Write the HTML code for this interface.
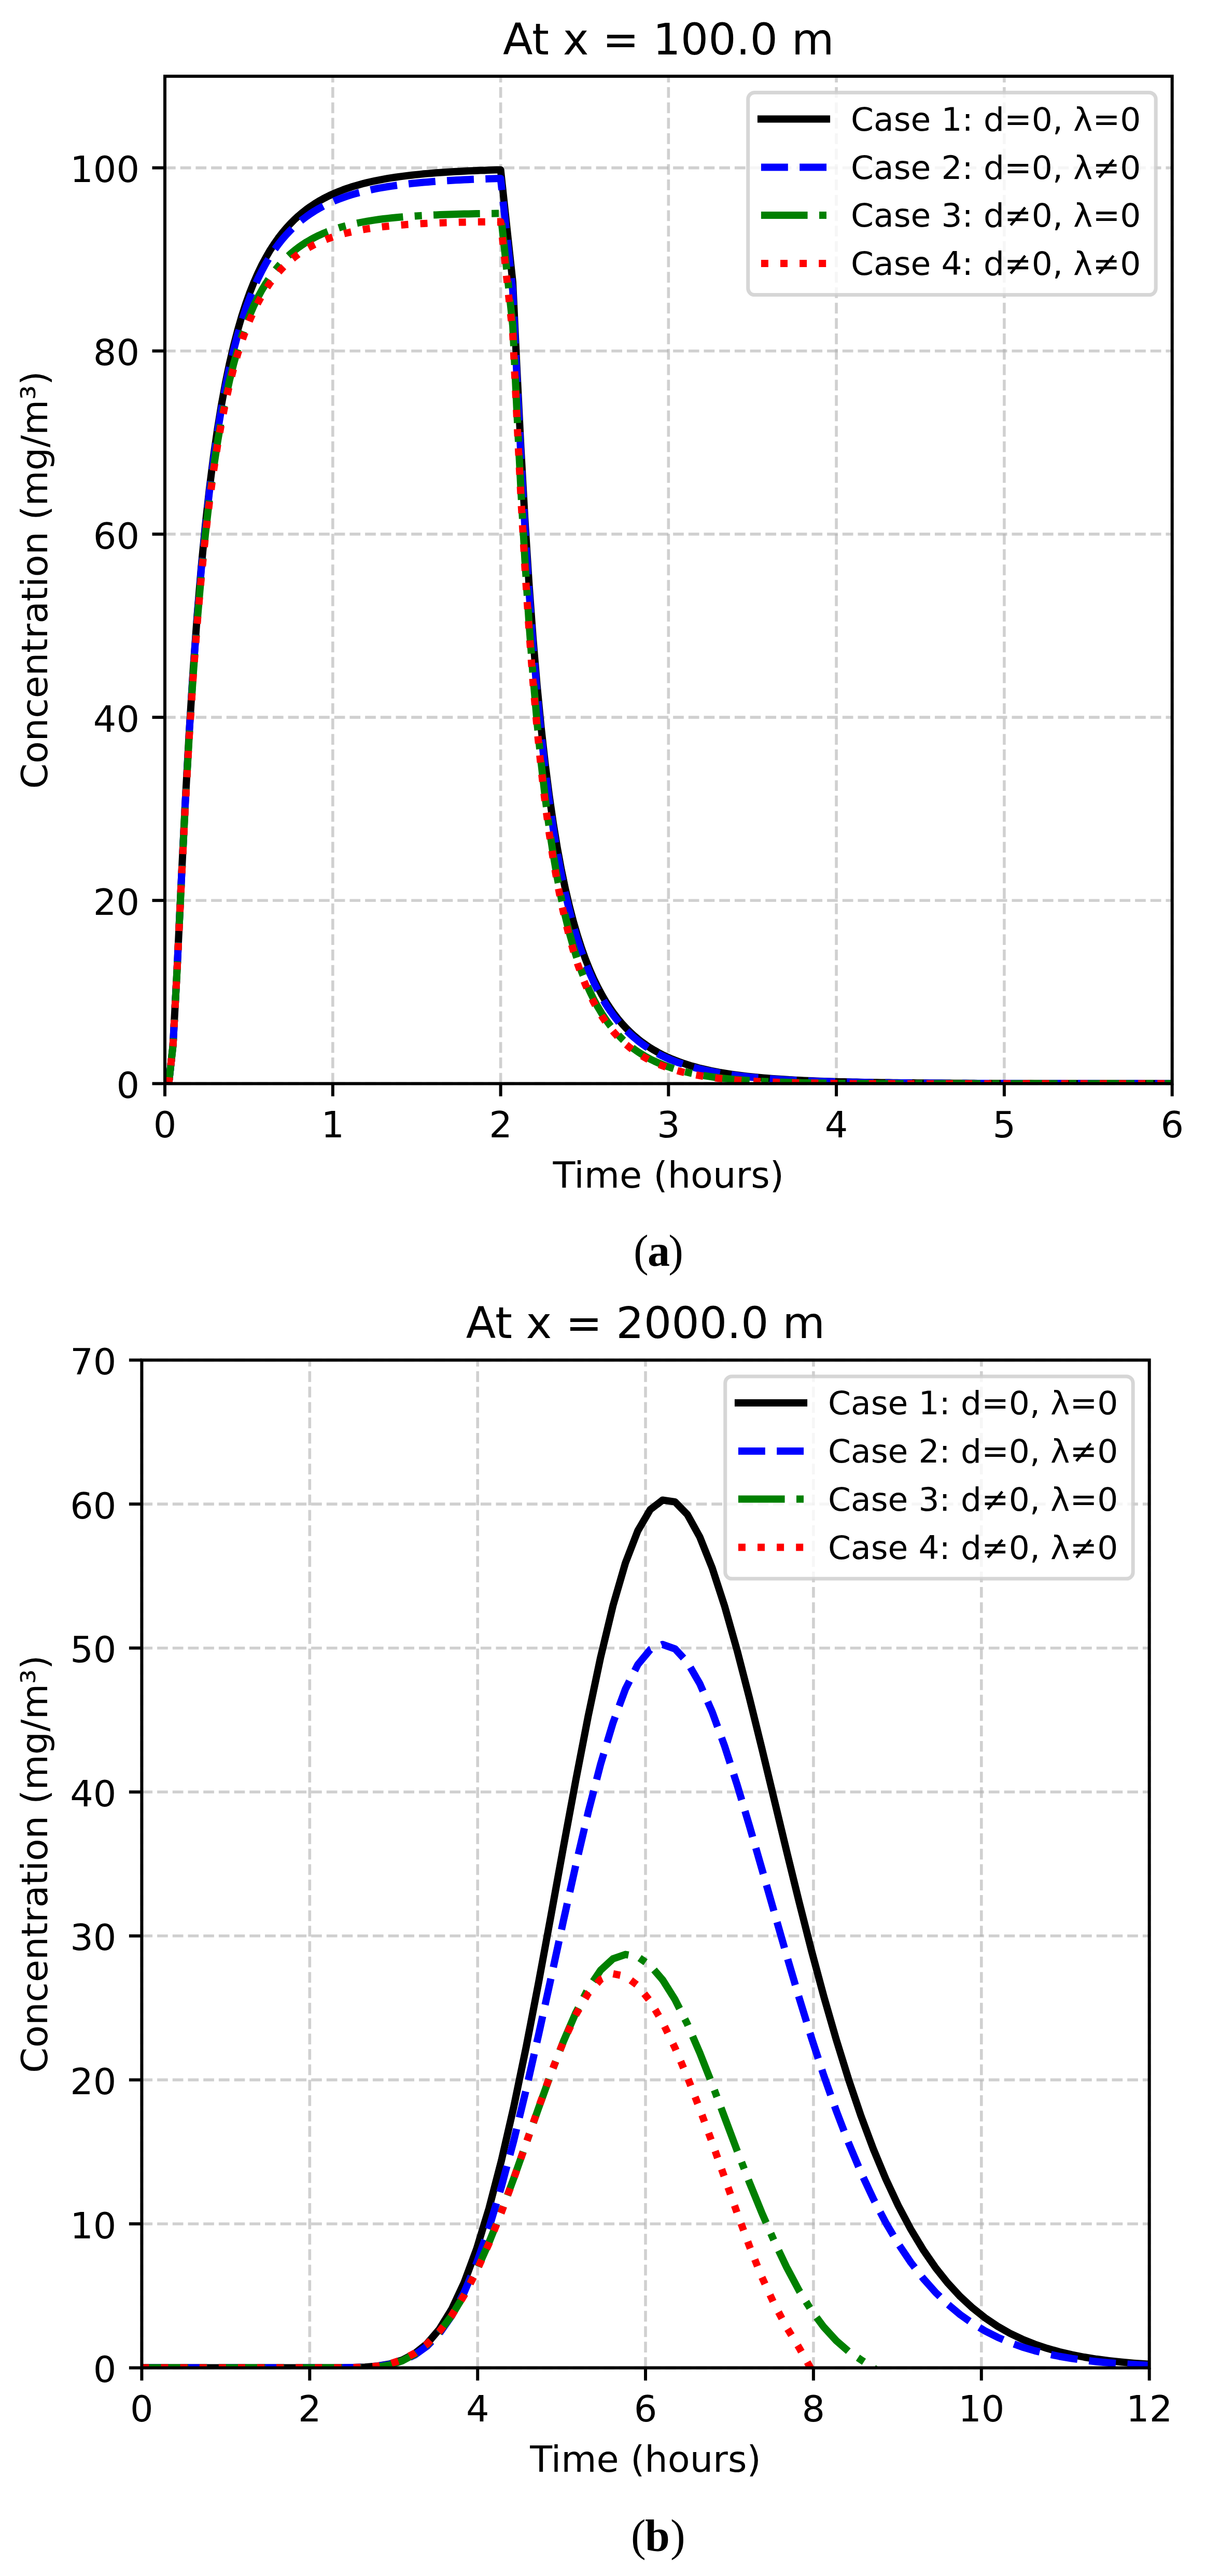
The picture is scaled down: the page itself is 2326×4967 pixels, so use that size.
<!DOCTYPE html><html><head><meta charset="utf-8"><title>Figure</title><style>html,body{margin:0;padding:0;background:#fff}svg{display:block}</style></head><body>
<svg width="2326" height="4967" viewBox="0 0 2326 4967">
<rect width="2326" height="4967" fill="#fff"/>
<clipPath id="clip1"><rect x="318" y="147" width="1942.7" height="1942.4"/></clipPath>
<g stroke="#b0b0b0" stroke-opacity="0.6" stroke-width="5.6" stroke-dasharray="20.7 9" fill="none">
<path d="M318 2089.4 V147"/>
<path d="M641.8 2089.4 V147"/>
<path d="M965.6 2089.4 V147"/>
<path d="M1289.3 2089.4 V147"/>
<path d="M1613.1 2089.4 V147"/>
<path d="M1936.9 2089.4 V147"/>
<path d="M2260.7 2089.4 V147"/>
<path d="M318 2089.4 H2260.7"/>
<path d="M318 1736.2 H2260.7"/>
<path d="M318 1383.1 H2260.7"/>
<path d="M318 1029.9 H2260.7"/>
<path d="M318 676.7 H2260.7"/>
<path d="M318 323.6 H2260.7"/>
</g>
<g clip-path="url(#clip1)" fill="none" stroke-width="14" stroke-linejoin="round">
<path d="M325.8 2086.2 L333.6 2016.1 L341.4 1871.5 L349.2 1708.2 L357 1552.8 L364.8 1413.6 L372.6 1291.6 L380.4 1185.5 L388.2 1093.3 L396 1013.1 L403.8 943 L411.6 881.7 L419.4 827.7 L427.2 780 L435 737.8 L442.8 700.3 L450.6 666.8 L458.4 636.9 L466.2 610 L474 585.9 L481.8 564.2 L489.6 544.5 L497.4 526.7 L505.2 510.6 L513.1 496 L520.9 482.6 L528.7 470.5 L536.5 459.4 L544.3 449.3 L552.1 440 L559.9 431.5 L567.7 423.6 L575.5 416.5 L583.3 409.9 L591.1 403.8 L598.9 398.2 L606.7 393 L614.5 388.2 L622.3 383.8 L630.1 379.7 L637.9 375.9 L645.7 372.4 L653.5 369.2 L661.3 366.2 L669.1 363.4 L676.9 360.8 L684.7 358.4 L692.5 356.2 L700.3 354.1 L708.1 352.1 L715.9 350.3 L723.7 348.6 L731.5 347.1 L739.3 345.6 L747.1 344.2 L754.9 342.9 L762.7 341.8 L770.5 340.6 L778.3 339.6 L786.1 338.6 L793.9 337.7 L801.7 336.9 L809.5 336.1 L817.3 335.3 L825.1 334.6 L832.9 334 L840.7 333.3 L848.5 332.8 L856.3 332.2 L864.1 331.7 L871.9 331.2 L879.7 330.8 L887.5 330.4 L895.3 330 L903.2 329.6 L911 329.3 L918.8 328.9 L926.6 328.6 L934.4 328.4 L942.2 328.1 L950 327.8 L957.8 327.6 L965.6 327.4 L989 544.6 L996.8 707.8 L1004.6 863 L1012.4 1002 L1020.2 1123.9 L1028 1229.8 L1035.8 1321.9 L1043.6 1402 L1051.4 1471.9 L1059.2 1533.2 L1067 1587.1 L1074.8 1634.7 L1082.6 1676.8 L1090.4 1714.2 L1098.2 1747.6 L1106 1777.5 L1113.8 1804.2 L1121.6 1828.3 L1129.4 1850 L1137.2 1869.5 L1145 1887.3 L1152.8 1903.3 L1160.6 1917.9 L1168.4 1931.2 L1176.2 1943.3 L1184 1954.4 L1191.8 1964.5 L1199.6 1973.7 L1207.4 1982.2 L1215.2 1990 L1223 1997.1 L1230.8 2003.7 L1238.6 2009.7 L1246.4 2015.3 L1254.2 2020.5 L1262 2025.2 L1269.8 2029.6 L1277.6 2033.7 L1285.4 2037.4 L1293.3 2040.9 L1301.1 2044.1 L1308.9 2047.1 L1316.7 2049.9 L1324.5 2052.5 L1332.3 2054.9 L1340.1 2057.1 L1347.9 2059.2 L1355.7 2061.1 L1363.5 2062.9 L1371.3 2064.6 L1379.1 2066.1 L1386.9 2067.6 L1394.7 2068.9 L1402.5 2070.2 L1410.3 2071.4 L1418.1 2072.5 L1425.9 2073.5 L1433.7 2074.5 L1441.5 2075.4 L1449.3 2076.2 L1457.1 2077 L1464.9 2077.8 L1472.7 2078.5 L1480.5 2079.1 L1488.3 2079.7 L1496.1 2080.3 L1503.9 2080.8 L1511.7 2081.3 L1519.5 2081.8 L1527.3 2082.3 L1535.1 2082.7 L1542.9 2083.1 L1550.7 2083.4 L1558.5 2083.8 L1566.3 2084.1 L1574.1 2084.4 L1581.9 2084.7 L1589.7 2085 L1597.5 2085.2 L1605.3 2085.4 L1613.1 2085.7 L1620.9 2085.9 L1628.7 2086.1 L1636.5 2086.3 L1644.3 2086.4 L1652.1 2086.6 L1659.9 2086.8 L1667.7 2086.9 L1675.5 2087 L1683.4 2087.2 L1691.2 2087.3 L1699 2087.4 L1706.8 2087.5 L1714.6 2087.6 L1722.4 2087.7 L1730.2 2087.8 L1738 2087.9 L1745.8 2088 L1753.6 2088.1 L1761.4 2088.1 L1769.2 2088.2 L1777 2088.3 L1784.8 2088.3 L1792.6 2088.4 L1800.4 2088.4 L1808.2 2088.5 L1816 2088.5 L1823.8 2088.6 L1831.6 2088.6 L1839.4 2088.7 L1847.2 2088.7 L1855 2088.7 L1862.8 2088.8 L1870.6 2088.8 L1878.4 2088.8 L1886.2 2088.9 L1894 2088.9 L1901.8 2088.9 L1909.6 2089 L1917.4 2089 L1925.2 2089 L1933 2089 L1940.8 2089 L1948.6 2089.1 L1956.4 2089.1 L1964.2 2089.1 L1972 2089.1 L1979.8 2089.1 L1987.6 2089.1 L1995.4 2089.2 L2003.2 2089.2 L2011 2089.2 L2018.8 2089.2 L2026.6 2089.2 L2034.4 2089.2 L2042.2 2089.2 L2050 2089.2 L2057.8 2089.2 L2065.6 2089.2 L2073.5 2089.3 L2081.3 2089.3 L2089.1 2089.3 L2096.9 2089.3 L2104.7 2089.3 L2112.5 2089.3 L2120.3 2089.3 L2128.1 2089.3 L2135.9 2089.3 L2143.7 2089.3 L2151.5 2089.3 L2159.3 2089.3 L2167.1 2089.3 L2174.9 2089.3 L2182.7 2089.3 L2190.5 2089.3 L2198.3 2089.3 L2206.1 2089.3 L2213.9 2089.3 L2221.7 2089.3 L2229.5 2089.3 L2237.3 2089.4 L2245.1 2089.4 L2252.9 2089.4 L2260.7 2089.4" stroke="#000" stroke-linecap="square"/>
<path d="M325.8 2086.2 L333.6 2016.2 L341.4 1871.9 L349.2 1709.1 L357 1554.3 L364.8 1415.7 L372.6 1294.4 L380.4 1189 L388.2 1097.4 L396 1017.8 L403.8 948.4 L411.6 887.6 L419.4 834.2 L427.2 787.1 L435 745.4 L442.8 708.3 L450.6 675.3 L458.4 645.8 L466.2 619.4 L474 595.7 L481.8 574.3 L489.6 555 L497.4 537.6 L505.2 521.8 L513.1 507.4 L520.9 494.4 L528.7 482.5 L536.5 471.6 L544.3 461.7 L552.1 452.7 L559.9 444.4 L567.7 436.8 L575.5 429.8 L583.3 423.4 L591.1 417.5 L598.9 412 L606.7 407 L614.5 402.4 L622.3 398.1 L630.1 394.2 L637.9 390.5 L645.7 387.1 L653.5 384 L661.3 381.1 L669.1 378.4 L676.9 375.9 L684.7 373.6 L692.5 371.4 L700.3 369.4 L708.1 367.6 L715.9 365.8 L723.7 364.2 L731.5 362.7 L739.3 361.3 L747.1 360 L754.9 358.8 L762.7 357.7 L770.5 356.6 L778.3 355.6 L786.1 354.7 L793.9 353.8 L801.7 353 L809.5 352.3 L817.3 351.5 L825.1 350.9 L832.9 350.3 L840.7 349.7 L848.5 349.1 L856.3 348.6 L864.1 348.2 L871.9 347.7 L879.7 347.3 L887.5 346.9 L895.3 346.5 L903.2 346.2 L911 345.8 L918.8 345.5 L926.6 345.3 L934.4 345 L942.2 344.7 L950 344.5 L957.8 344.3 L965.6 344.1 L989 560.9 L996.8 723.6 L1004.6 878.3 L1012.4 1016.7 L1020.2 1137.9 L1028 1243.2 L1035.8 1334.6 L1043.6 1414.1 L1051.4 1483.4 L1059.2 1544.1 L1067 1597.4 L1074.8 1644.4 L1082.6 1686.1 L1090.4 1723 L1098.2 1756 L1106 1785.4 L1113.8 1811.7 L1121.6 1835.4 L1129.4 1856.7 L1137.2 1875.9 L1145 1893.3 L1152.8 1909.1 L1160.6 1923.4 L1168.4 1936.4 L1176.2 1948.2 L1184 1959 L1191.8 1968.9 L1199.6 1977.9 L1207.4 1986.2 L1215.2 1993.8 L1223 2000.7 L1230.8 2007.1 L1238.6 2013 L1246.4 2018.4 L1254.2 2023.4 L1262 2028 L1269.8 2032.3 L1277.6 2036.2 L1285.4 2039.8 L1293.3 2043.2 L1301.1 2046.3 L1308.9 2049.2 L1316.7 2051.8 L1324.5 2054.3 L1332.3 2056.6 L1340.1 2058.8 L1347.9 2060.8 L1355.7 2062.6 L1363.5 2064.3 L1371.3 2065.9 L1379.1 2067.4 L1386.9 2068.8 L1394.7 2070.1 L1402.5 2071.3 L1410.3 2072.5 L1418.1 2073.5 L1425.9 2074.5 L1433.7 2075.4 L1441.5 2076.3 L1449.3 2077.1 L1457.1 2077.8 L1464.9 2078.5 L1472.7 2079.2 L1480.5 2079.8 L1488.3 2080.4 L1496.1 2080.9 L1503.9 2081.4 L1511.7 2081.9 L1519.5 2082.4 L1527.3 2082.8 L1535.1 2083.2 L1542.9 2083.5 L1550.7 2083.9 L1558.5 2084.2 L1566.3 2084.5 L1574.1 2084.8 L1581.9 2085 L1589.7 2085.3 L1597.5 2085.5 L1605.3 2085.8 L1613.1 2086 L1620.9 2086.2 L1628.7 2086.3 L1636.5 2086.5 L1644.3 2086.7 L1652.1 2086.8 L1659.9 2087 L1667.7 2087.1 L1675.5 2087.2 L1683.4 2087.4 L1691.2 2087.5 L1699 2087.6 L1706.8 2087.7 L1714.6 2087.8 L1722.4 2087.9 L1730.2 2088 L1738 2088 L1745.8 2088.1 L1753.6 2088.2 L1761.4 2088.3 L1769.2 2088.3 L1777 2088.4 L1784.8 2088.4 L1792.6 2088.5 L1800.4 2088.5 L1808.2 2088.6 L1816 2088.6 L1823.8 2088.7 L1831.6 2088.7 L1839.4 2088.7 L1847.2 2088.8 L1855 2088.8 L1862.8 2088.8 L1870.6 2088.9 L1878.4 2088.9 L1886.2 2088.9 L1894 2089 L1901.8 2089 L1909.6 2089 L1917.4 2089 L1925.2 2089 L1933 2089.1 L1940.8 2089.1 L1948.6 2089.1 L1956.4 2089.1 L1964.2 2089.1 L1972 2089.1 L1979.8 2089.2 L1987.6 2089.2 L1995.4 2089.2 L2003.2 2089.2 L2011 2089.2 L2018.8 2089.2 L2026.6 2089.2 L2034.4 2089.2 L2042.2 2089.2 L2050 2089.2 L2057.8 2089.3 L2065.6 2089.3 L2073.5 2089.3 L2081.3 2089.3 L2089.1 2089.3 L2096.9 2089.3 L2104.7 2089.3 L2112.5 2089.3 L2120.3 2089.3 L2128.1 2089.3 L2135.9 2089.3 L2143.7 2089.3 L2151.5 2089.3 L2159.3 2089.3 L2167.1 2089.3 L2174.9 2089.3 L2182.7 2089.3 L2190.5 2089.3 L2198.3 2089.3 L2206.1 2089.3 L2213.9 2089.4 L2221.7 2089.4 L2229.5 2089.4 L2237.3 2089.4 L2245.1 2089.4 L2252.9 2089.4 L2260.7 2089.4" stroke="#00f" stroke-dasharray="51.9 22.4" stroke-dashoffset="5"/>
<path d="M325.8 2086.2 L333.6 2016.4 L341.4 1872.8 L349.2 1711 L357 1557.7 L364.8 1420.8 L372.6 1301.3 L380.4 1197.8 L388.2 1108.3 L396 1030.7 L403.8 963.3 L411.6 904.5 L419.4 853.1 L427.2 807.9 L435 768.1 L442.8 732.9 L450.6 701.6 L458.4 673.9 L466.2 649.1 L474 627 L481.8 607.2 L489.6 589.4 L497.4 573.4 L505.2 559 L513.1 546 L520.9 534.2 L528.7 523.5 L536.5 513.9 L544.3 505.1 L552.1 497.1 L559.9 489.9 L567.7 483.3 L575.5 477.3 L583.3 471.8 L591.1 466.7 L598.9 462.2 L606.7 458 L614.5 454.1 L622.3 450.6 L630.1 447.4 L637.9 444.4 L645.7 441.7 L653.5 439.2 L661.3 436.9 L669.1 434.8 L676.9 432.9 L684.7 431.1 L692.5 429.5 L700.3 428 L708.1 426.6 L715.9 425.3 L723.7 424.1 L731.5 423 L739.3 422 L747.1 421.1 L754.9 420.3 L762.7 419.5 L770.5 418.8 L778.3 418.1 L786.1 417.5 L793.9 416.9 L801.7 416.4 L809.5 415.9 L817.3 415.5 L825.1 415.1 L832.9 414.7 L840.7 414.4 L848.5 414.1 L856.3 413.8 L864.1 413.5 L871.9 413.3 L879.7 413 L887.5 412.8 L895.3 412.6 L903.2 412.4 L911 412.3 L918.8 412.1 L926.6 412 L934.4 411.9 L942.2 411.8 L950 411.7 L957.8 411.6 L965.6 411.5 L989 627.9 L996.8 789.6 L1004.6 942.9 L1012.4 1079.7 L1020.2 1199.1 L1028 1302.6 L1035.8 1392.1 L1043.6 1469.6 L1051.4 1537 L1059.2 1595.8 L1067 1647.2 L1074.8 1692.3 L1082.6 1732.1 L1090.4 1767.3 L1098.2 1798.5 L1106 1826.3 L1113.8 1851 L1121.6 1873.1 L1129.4 1893 L1137.2 1910.7 L1145 1926.7 L1152.8 1941.2 L1160.6 1954.2 L1168.4 1965.9 L1176.2 1976.6 L1184 1986.2 L1191.8 1995 L1199.6 2003 L1207.4 2010.2 L1215.2 2016.8 L1223 2022.9 L1230.8 2028.4 L1238.6 2033.4 L1246.4 2038 L1254.2 2042.2 L1262 2046 L1269.8 2049.5 L1277.6 2052.8 L1285.4 2055.7 L1293.3 2058.5 L1301.1 2061 L1308.9 2063.2 L1316.7 2065.4 L1324.5 2067.3 L1332.3 2069.1 L1340.1 2070.7 L1347.9 2072.2 L1355.7 2073.6 L1363.5 2074.9 L1371.3 2076.1 L1379.1 2077.2 L1386.9 2078.2 L1394.7 2079.1 L1402.5 2079.9 L1410.3 2080.7 L1418.1 2081.5 L1425.9 2082.1 L1433.7 2082.7 L1441.5 2083.3 L1449.3 2083.8 L1457.1 2084.3 L1464.9 2084.8 L1472.7 2085.2 L1480.5 2085.5 L1488.3 2085.9 L1496.1 2086.2 L1503.9 2086.5 L1511.7 2086.8 L1519.5 2087 L1527.3 2087.3 L1535.1 2087.5 L1542.9 2087.7 L1550.7 2087.9 L1558.5 2088 L1566.3 2088.2 L1574.1 2088.3 L1581.9 2088.4 L1589.7 2088.6 L1597.5 2088.7 L1605.3 2088.8 L1613.1 2088.9 L1620.9 2088.9 L1628.7 2089 L1636.5 2089.1 L1644.3 2089.1 L1652.1 2089.2 L1659.9 2089.2 L1667.7 2089.3 L1675.5 2089.3 L1683.4 2089.4 L1691.2 2089.4 L1699 2089.4 L1706.8 2089.5 L1714.6 2089.5 L1722.4 2089.5 L1730.2 2089.5 L1738 2089.6 L1745.8 2089.6 L1753.6 2089.6 L1761.4 2089.6 L1769.2 2089.6 L1777 2089.6 L1784.8 2089.6 L1792.6 2089.6 L1800.4 2089.6 L1808.2 2089.6 L1816 2089.6 L1823.8 2089.6 L1831.6 2089.6 L1839.4 2089.6 L1847.2 2089.6 L1855 2089.6 L1862.8 2089.6 L1870.6 2089.6 L1878.4 2089.6 L1886.2 2089.6 L1894 2089.6 L1901.8 2089.6 L1909.6 2089.6 L1917.4 2089.6 L1925.2 2089.6 L1933 2089.6 L1940.8 2089.6 L1948.6 2089.6 L1956.4 2089.6 L1964.2 2089.6 L1972 2089.6 L1979.8 2089.6 L1987.6 2089.6 L1995.4 2089.6 L2003.2 2089.6 L2011 2089.6 L2018.8 2089.6 L2026.6 2089.6 L2034.4 2089.6 L2042.2 2089.6 L2050 2089.6 L2057.8 2089.6 L2065.6 2089.5 L2073.5 2089.5 L2081.3 2089.5 L2089.1 2089.5 L2096.9 2089.5 L2104.7 2089.5 L2112.5 2089.5 L2120.3 2089.5 L2128.1 2089.5 L2135.9 2089.5 L2143.7 2089.5 L2151.5 2089.5 L2159.3 2089.5 L2167.1 2089.5 L2174.9 2089.5 L2182.7 2089.5 L2190.5 2089.5 L2198.3 2089.5 L2206.1 2089.5 L2213.9 2089.5 L2221.7 2089.5 L2229.5 2089.5 L2237.3 2089.5 L2245.1 2089.5 L2252.9 2089.5 L2260.7 2089.5" stroke="#008000" stroke-dasharray="89.7 22.4 14 22.4" stroke-dashoffset="5"/>
<path d="M325.8 2086.2 L333.6 2016.5 L341.4 1873.2 L349.2 1711.9 L357 1559.1 L364.8 1422.9 L372.6 1304.1 L380.4 1201.2 L388.2 1112.3 L396 1035.4 L403.8 968.6 L411.6 910.4 L419.4 859.5 L427.2 814.8 L435 775.5 L442.8 740.7 L450.6 710 L458.4 682.6 L466.2 658.3 L474 636.5 L481.8 617 L489.6 599.6 L497.4 583.9 L505.2 569.8 L513.1 557 L520.9 545.5 L528.7 535.1 L536.5 525.7 L544.3 517.2 L552.1 509.4 L559.9 502.4 L567.7 496 L575.5 490.1 L583.3 484.8 L591.1 479.9 L598.9 475.5 L606.7 471.4 L614.5 467.7 L622.3 464.3 L630.1 461.2 L637.9 458.4 L645.7 455.8 L653.5 453.4 L661.3 451.2 L669.1 449.2 L676.9 447.4 L684.7 445.7 L692.5 444.1 L700.3 442.7 L708.1 441.4 L715.9 440.2 L723.7 439 L731.5 438 L739.3 437.1 L747.1 436.2 L754.9 435.4 L762.7 434.7 L770.5 434 L778.3 433.4 L786.1 432.8 L793.9 432.3 L801.7 431.8 L809.5 431.4 L817.3 431 L825.1 430.6 L832.9 430.3 L840.7 430 L848.5 429.7 L856.3 429.4 L864.1 429.2 L871.9 428.9 L879.7 428.7 L887.5 428.5 L895.3 428.4 L903.2 428.2 L911 428.1 L918.8 427.9 L926.6 427.8 L934.4 427.7 L942.2 427.6 L950 427.5 L957.8 427.4 L965.6 427.4 L989 643.4 L996.8 804.7 L1004.6 957.4 L1012.4 1093.6 L1020.2 1212.4 L1028 1315.2 L1035.8 1404 L1043.6 1480.9 L1051.4 1547.7 L1059.2 1605.9 L1067 1656.8 L1074.8 1701.5 L1082.6 1740.8 L1090.4 1775.5 L1098.2 1806.3 L1106 1833.6 L1113.8 1858 L1121.6 1879.7 L1129.4 1899.2 L1137.2 1916.6 L1145 1932.3 L1152.8 1946.4 L1160.6 1959.2 L1168.4 1970.7 L1176.2 1981.1 L1184 1990.5 L1191.8 1999 L1199.6 2006.8 L1207.4 2013.9 L1215.2 2020.3 L1223 2026.1 L1230.8 2031.5 L1238.6 2036.3 L1246.4 2040.8 L1254.2 2044.8 L1262 2048.5 L1269.8 2051.9 L1277.6 2055 L1285.4 2057.9 L1293.3 2060.5 L1301.1 2062.9 L1308.9 2065.1 L1316.7 2067.1 L1324.5 2068.9 L1332.3 2070.6 L1340.1 2072.2 L1347.9 2073.6 L1355.7 2075 L1363.5 2076.2 L1371.3 2077.3 L1379.1 2078.3 L1386.9 2079.3 L1394.7 2080.1 L1402.5 2080.9 L1410.3 2081.7 L1418.1 2082.4 L1425.9 2083 L1433.7 2083.5 L1441.5 2084.1 L1449.3 2084.6 L1457.1 2085 L1464.9 2085.4 L1472.7 2085.8 L1480.5 2086.1 L1488.3 2086.5 L1496.1 2086.8 L1503.9 2087 L1511.7 2087.3 L1519.5 2087.5 L1527.3 2087.7 L1535.1 2087.9 L1542.9 2088.1 L1550.7 2088.2 L1558.5 2088.4 L1566.3 2088.5 L1574.1 2088.6 L1581.9 2088.8 L1589.7 2088.9 L1597.5 2088.9 L1605.3 2089 L1613.1 2089.1 L1620.9 2089.2 L1628.7 2089.2 L1636.5 2089.3 L1644.3 2089.4 L1652.1 2089.4 L1659.9 2089.4 L1667.7 2089.5 L1675.5 2089.5 L1683.4 2089.5 L1691.2 2089.6 L1699 2089.6 L1706.8 2089.6 L1714.6 2089.6 L1722.4 2089.6 L1730.2 2089.7 L1738 2089.7 L1745.8 2089.7 L1753.6 2089.7 L1761.4 2089.7 L1769.2 2089.7 L1777 2089.7 L1784.8 2089.7 L1792.6 2089.7 L1800.4 2089.7 L1808.2 2089.7 L1816 2089.7 L1823.8 2089.7 L1831.6 2089.7 L1839.4 2089.7 L1847.2 2089.7 L1855 2089.7 L1862.8 2089.7 L1870.6 2089.7 L1878.4 2089.7 L1886.2 2089.7 L1894 2089.7 L1901.8 2089.7 L1909.6 2089.7 L1917.4 2089.7 L1925.2 2089.7 L1933 2089.7 L1940.8 2089.6 L1948.6 2089.6 L1956.4 2089.6 L1964.2 2089.6 L1972 2089.6 L1979.8 2089.6 L1987.6 2089.6 L1995.4 2089.6 L2003.2 2089.6 L2011 2089.6 L2018.8 2089.6 L2026.6 2089.6 L2034.4 2089.6 L2042.2 2089.6 L2050 2089.6 L2057.8 2089.6 L2065.6 2089.6 L2073.5 2089.6 L2081.3 2089.6 L2089.1 2089.5 L2096.9 2089.5 L2104.7 2089.5 L2112.5 2089.5 L2120.3 2089.5 L2128.1 2089.5 L2135.9 2089.5 L2143.7 2089.5 L2151.5 2089.5 L2159.3 2089.5 L2167.1 2089.5 L2174.9 2089.5 L2182.7 2089.5 L2190.5 2089.5 L2198.3 2089.5 L2206.1 2089.5 L2213.9 2089.5 L2221.7 2089.5 L2229.5 2089.5 L2237.3 2089.5 L2245.1 2089.5 L2252.9 2089.5 L2260.7 2089.5" stroke="#f00" stroke-dasharray="14 23.1" stroke-dashoffset="5"/>
</g>
<g stroke="#000" stroke-width="6" fill="none">
<path d="M318 2089.4 v24.5"/>
<path d="M641.8 2089.4 v24.5"/>
<path d="M965.6 2089.4 v24.5"/>
<path d="M1289.3 2089.4 v24.5"/>
<path d="M1613.1 2089.4 v24.5"/>
<path d="M1936.9 2089.4 v24.5"/>
<path d="M2260.7 2089.4 v24.5"/>
<path d="M318 2089.4 h-24.5"/>
<path d="M318 1736.2 h-24.5"/>
<path d="M318 1383.1 h-24.5"/>
<path d="M318 1029.9 h-24.5"/>
<path d="M318 676.7 h-24.5"/>
<path d="M318 323.6 h-24.5"/>
<rect x="318" y="147" width="1942.7" height="1942.4" stroke-linejoin="miter"/>
</g>
<g font-family='"DejaVu Sans","Liberation Sans",sans-serif' font-size="70.1" fill="#000">
<text x="318" y="2193.1" text-anchor="middle">0</text>
<text x="641.8" y="2193.1" text-anchor="middle">1</text>
<text x="965.6" y="2193.1" text-anchor="middle">2</text>
<text x="1289.3" y="2193.1" text-anchor="middle">3</text>
<text x="1613.1" y="2193.1" text-anchor="middle">4</text>
<text x="1936.9" y="2193.1" text-anchor="middle">5</text>
<text x="2260.7" y="2193.1" text-anchor="middle">6</text>
<text x="269" y="2117" text-anchor="end">0</text>
<text x="269" y="1763.8" text-anchor="end">20</text>
<text x="269" y="1410.7" text-anchor="end">40</text>
<text x="269" y="1057.5" text-anchor="end">60</text>
<text x="269" y="704.3" text-anchor="end">80</text>
<text x="269" y="351.2" text-anchor="end">100</text>
<text x="1289.3" y="2290.1" text-anchor="middle">Time (hours)</text>
<text transform="translate(91.3 1118.2) rotate(-90)" text-anchor="middle">Concentration (mg/m³)</text>
</g>
<text x="1289.3" y="104.8" text-anchor="middle" font-family='"DejaVu Sans","Liberation Sans",sans-serif' font-size="84.1" fill="#000">At x = 100.0 m</text>
<rect x="1442.7" y="178.5" width="786.5" height="390.1" rx="12.6" fill="#fff" fill-opacity="0.8" stroke="#ccc" stroke-opacity="0.8" stroke-width="7"/>
<g font-family='"DejaVu Sans","Liberation Sans",sans-serif' font-size="63.1" fill="#000">
<path d="M1467.9 229.6 H1594.1" stroke="#000" stroke-width="14" fill="none" stroke-linecap="square"/>
<text x="1641" y="251.7">Case 1: d=0, λ=0</text>
<path d="M1467.9 322.4 H1594.1" stroke="#00f" stroke-width="14" fill="none" stroke-dasharray="51.9 22.4"/>
<text x="1641" y="344.5">Case 2: d=0, λ≠0</text>
<path d="M1467.9 415.1 H1594.1" stroke="#008000" stroke-width="14" fill="none" stroke-dasharray="89.7 22.4 14 22.4"/>
<text x="1641" y="437.2">Case 3: d≠0, λ=0</text>
<path d="M1467.9 507.9 H1594.1" stroke="#f00" stroke-width="14" fill="none" stroke-dasharray="14 23.1"/>
<text x="1641" y="530">Case 4: d≠0, λ≠0</text>
</g>
<clipPath id="clip2"><rect x="273.4" y="2622.5" width="1943.3" height="1943.1"/></clipPath>
<g stroke="#b0b0b0" stroke-opacity="0.6" stroke-width="5.6" stroke-dasharray="20.7 9" fill="none">
<path d="M273.4 4565.6 V2622.5"/>
<path d="M597.3 4565.6 V2622.5"/>
<path d="M921.2 4565.6 V2622.5"/>
<path d="M1245 4565.6 V2622.5"/>
<path d="M1568.9 4565.6 V2622.5"/>
<path d="M1892.8 4565.6 V2622.5"/>
<path d="M2216.7 4565.6 V2622.5"/>
<path d="M273.4 4565.6 H2216.7"/>
<path d="M273.4 4288 H2216.7"/>
<path d="M273.4 4010.4 H2216.7"/>
<path d="M273.4 3732.8 H2216.7"/>
<path d="M273.4 3455.3 H2216.7"/>
<path d="M273.4 3177.7 H2216.7"/>
<path d="M273.4 2900.1 H2216.7"/>
<path d="M273.4 2622.5 H2216.7"/>
</g>
<g clip-path="url(#clip2)" fill="none" stroke-width="14" stroke-linejoin="round">
<path d="M273.4 4565.6 L297.3 4565.6 L321.2 4565.6 L345.2 4565.6 L369.1 4565.6 L393 4565.6 L416.9 4565.6 L440.8 4565.6 L464.8 4565.6 L488.7 4565.6 L512.6 4565.6 L536.5 4565.6 L560.4 4565.6 L584.3 4565.6 L608.3 4565.6 L632.2 4565.6 L656.1 4565.4 L680 4565.1 L703.9 4564.2 L727.9 4562.1 L751.8 4558.1 L775.7 4550.7 L799.6 4538.3 L823.5 4519.1 L847.5 4491 L871.4 4452.2 L895.3 4401 L919.2 4336.5 L943.1 4258.2 L967 4166.3 L991 4061.8 L1014.9 3946.5 L1038.8 3822.6 L1062.7 3693.2 L1086.6 3561.7 L1110.6 3432.2 L1134.5 3308.7 L1158.4 3195.3 L1182.3 3095.9 L1206.2 3013.8 L1230.2 2951.6 L1254.1 2910.8 L1278 2892.4 L1301.9 2895.9 L1325.8 2920.3 L1349.7 2963.6 L1373.7 3023.6 L1397.6 3097.2 L1421.5 3181.7 L1445.4 3273.9 L1469.3 3370.9 L1493.3 3470.3 L1517.2 3569.6 L1541.1 3666.9 L1565 3760.7 L1588.9 3849.6 L1612.9 3932.9 L1636.8 4009.9 L1660.7 4080.4 L1684.6 4144.3 L1708.5 4201.6 L1732.4 4252.8 L1756.4 4298 L1780.3 4337.7 L1804.2 4372.3 L1828.1 4402.3 L1852 4428.2 L1876 4450.3 L1899.9 4469.3 L1923.8 4485.4 L1947.7 4499 L1971.6 4510.4 L1995.6 4520.1 L2019.5 4528.1 L2043.4 4534.8 L2067.3 4540.4 L2091.2 4545 L2115.1 4548.8 L2139.1 4551.9 L2163 4554.5 L2186.9 4556.6 L2210.8 4558.3 L2234.7 4559.7" stroke="#000" stroke-linecap="square"/>
<path d="M273.4 4565.6 L297.3 4565.6 L321.2 4565.6 L345.2 4565.6 L369.1 4565.6 L393 4565.6 L416.9 4565.6 L440.8 4565.6 L464.8 4565.6 L488.7 4565.6 L512.6 4565.6 L536.5 4565.6 L560.4 4565.6 L584.3 4565.6 L608.3 4565.6 L632.2 4565.6 L656.1 4565.5 L680 4565.1 L703.9 4564.3 L727.9 4562.4 L751.8 4558.8 L775.7 4552.1 L799.6 4541 L823.5 4523.9 L847.5 4499.1 L871.4 4464.9 L895.3 4420.1 L919.2 4363.8 L943.1 4295.9 L967 4216.6 L991 4126.9 L1014.9 4028.4 L1038.8 3923.2 L1062.7 3814 L1086.6 3703.8 L1110.6 3596 L1134.5 3494.1 L1158.4 3401.6 L1182.3 3321.7 L1206.2 3257 L1230.2 3209.6 L1254.1 3180.8 L1278 3170.8 L1301.9 3179.3 L1325.8 3205.2 L1349.7 3246.5 L1373.7 3301.3 L1397.6 3366.9 L1421.5 3440.8 L1445.4 3520.4 L1469.3 3603.3 L1493.3 3687.3 L1517.2 3770.6 L1541.1 3851.6 L1565 3929.1 L1588.9 4002.1 L1612.9 4070 L1636.8 4132.4 L1660.7 4189.2 L1684.6 4240.3 L1708.5 4286 L1732.4 4326.4 L1756.4 4362 L1780.3 4393 L1804.2 4419.9 L1828.1 4443.2 L1852 4463.1 L1876 4480.1 L1899.9 4494.5 L1923.8 4506.6 L1947.7 4516.9 L1971.6 4525.5 L1995.6 4532.6 L2019.5 4538.6 L2043.4 4543.5 L2067.3 4547.6 L2091.2 4551 L2115.1 4553.7 L2139.1 4556 L2163 4557.8 L2186.9 4559.3 L2210.8 4560.6 L2234.7 4561.5" stroke="#00f" stroke-dasharray="51.9 22.4"/>
<path d="M273.4 4565.6 L297.3 4565.6 L321.2 4565.6 L345.2 4565.6 L369.1 4565.6 L393 4565.6 L416.9 4565.6 L440.8 4565.6 L464.8 4565.6 L488.7 4565.6 L512.6 4565.6 L536.5 4565.6 L560.4 4565.6 L584.3 4565.6 L608.3 4565.6 L632.2 4565.6 L656.1 4565.4 L680 4565.1 L703.9 4565.2 L727.9 4564.2 L751.8 4560.1 L775.7 4552.2 L799.6 4539.4 L823.5 4521.1 L847.5 4496.4 L871.4 4464.5 L895.3 4424.9 L919.2 4377.8 L943.1 4324.1 L967 4264.4 L991 4199.9 L1014.9 4132.4 L1038.8 4064.5 L1062.7 3998.3 L1086.6 3936.4 L1110.6 3880.9 L1134.5 3834.3 L1158.4 3798.9 L1182.3 3776.9 L1206.2 3768.6 L1230.2 3773.2 L1254.1 3789.8 L1278 3817.6 L1301.9 3855.6 L1325.8 3902.9 L1349.7 3958.3 L1373.7 4019.1 L1397.6 4082.7 L1421.5 4146.4 L1445.4 4208.1 L1469.3 4266.7 L1493.3 4321.5 L1517.2 4371.7 L1541.1 4416.5 L1565 4455 L1588.9 4487.1 L1612.9 4513.3 L1636.8 4534.1 L1660.7 4550.2 L1684.6 4565.6 L1708.5 4583.6 L1732.4 4604.5" stroke="#008000" stroke-dasharray="89.7 22.4 14 22.4"/>
<path d="M273.4 4565.6 L297.3 4565.6 L321.2 4565.6 L345.2 4565.6 L369.1 4565.6 L393 4565.6 L416.9 4565.6 L440.8 4565.6 L464.8 4565.6 L488.7 4565.6 L512.6 4565.6 L536.5 4565.6 L560.4 4565.6 L584.3 4565.6 L608.3 4565.6 L632.2 4565.6 L656.1 4565.4 L680 4565.1 L703.9 4564.5 L727.9 4562.6 L751.8 4558 L775.7 4550 L799.6 4537.5 L823.5 4519.7 L847.5 4495.6 L871.4 4464.5 L895.3 4425.6 L919.2 4379.2 L943.1 4325.8 L967 4265.9 L991 4200.5 L1014.9 4132.1 L1038.8 4063.5 L1062.7 3997.4 L1086.6 3936.9 L1110.6 3884.7 L1134.5 3843.6 L1158.4 3816.6 L1182.3 3805.8 L1206.2 3810.4 L1230.2 3828.6 L1254.1 3858.9 L1278 3899.5 L1301.9 3948.7 L1325.8 4005 L1349.7 4066.6 L1373.7 4131.8 L1397.6 4199 L1421.5 4266.3 L1445.4 4331 L1469.3 4390.5 L1493.3 4442.6 L1517.2 4487.6 L1541.1 4526.6 L1565 4568.9 L1588.9 4591.9 L1612.9 4620.5" stroke="#f00" stroke-dasharray="14 23.1"/>
</g>
<g stroke="#000" stroke-width="6" fill="none">
<path d="M273.4 4565.6 v24.5"/>
<path d="M597.3 4565.6 v24.5"/>
<path d="M921.2 4565.6 v24.5"/>
<path d="M1245 4565.6 v24.5"/>
<path d="M1568.9 4565.6 v24.5"/>
<path d="M1892.8 4565.6 v24.5"/>
<path d="M2216.7 4565.6 v24.5"/>
<path d="M273.4 4565.6 h-24.5"/>
<path d="M273.4 4288 h-24.5"/>
<path d="M273.4 4010.4 h-24.5"/>
<path d="M273.4 3732.8 h-24.5"/>
<path d="M273.4 3455.3 h-24.5"/>
<path d="M273.4 3177.7 h-24.5"/>
<path d="M273.4 2900.1 h-24.5"/>
<path d="M273.4 2622.5 h-24.5"/>
<rect x="273.4" y="2622.5" width="1943.3" height="1943.1" stroke-linejoin="miter"/>
</g>
<g font-family='"DejaVu Sans","Liberation Sans",sans-serif' font-size="70.1" fill="#000">
<text x="273.4" y="4669.3" text-anchor="middle">0</text>
<text x="597.3" y="4669.3" text-anchor="middle">2</text>
<text x="921.2" y="4669.3" text-anchor="middle">4</text>
<text x="1245" y="4669.3" text-anchor="middle">6</text>
<text x="1568.9" y="4669.3" text-anchor="middle">8</text>
<text x="1892.8" y="4669.3" text-anchor="middle">10</text>
<text x="2216.7" y="4669.3" text-anchor="middle">12</text>
<text x="224.4" y="4593.2" text-anchor="end">0</text>
<text x="224.4" y="4315.6" text-anchor="end">10</text>
<text x="224.4" y="4038" text-anchor="end">20</text>
<text x="224.4" y="3760.4" text-anchor="end">30</text>
<text x="224.4" y="3482.9" text-anchor="end">40</text>
<text x="224.4" y="3205.3" text-anchor="end">50</text>
<text x="224.4" y="2927.7" text-anchor="end">60</text>
<text x="224.4" y="2650.1" text-anchor="end">70</text>
<text x="1245" y="4766.3" text-anchor="middle">Time (hours)</text>
<text transform="translate(91.3 3594.1) rotate(-90)" text-anchor="middle">Concentration (mg/m³)</text>
</g>
<text x="1245" y="2580.3" text-anchor="middle" font-family='"DejaVu Sans","Liberation Sans",sans-serif' font-size="84.1" fill="#000">At x = 2000.0 m</text>
<rect x="1398.7" y="2654" width="786.5" height="390.1" rx="12.6" fill="#fff" fill-opacity="0.8" stroke="#ccc" stroke-opacity="0.8" stroke-width="7"/>
<g font-family='"DejaVu Sans","Liberation Sans",sans-serif' font-size="63.1" fill="#000">
<path d="M1423.9 2705.1 H1550.1" stroke="#000" stroke-width="14" fill="none" stroke-linecap="square"/>
<text x="1597" y="2727.2">Case 1: d=0, λ=0</text>
<path d="M1423.9 2797.9 H1550.1" stroke="#00f" stroke-width="14" fill="none" stroke-dasharray="51.9 22.4"/>
<text x="1597" y="2820">Case 2: d=0, λ≠0</text>
<path d="M1423.9 2890.6 H1550.1" stroke="#008000" stroke-width="14" fill="none" stroke-dasharray="89.7 22.4 14 22.4"/>
<text x="1597" y="2912.7">Case 3: d≠0, λ=0</text>
<path d="M1423.9 2983.4 H1550.1" stroke="#f00" stroke-width="14" fill="none" stroke-dasharray="14 23.1"/>
<text x="1597" y="3005.5">Case 4: d≠0, λ≠0</text>
</g>
<g font-family='"Liberation Serif","DejaVu Serif",serif' font-size="86" fill="#000">
<text x="1221.9" y="2441.4">(</text><text x="1248.9" y="2441.4" font-weight="bold">a</text><text x="1289.3" y="2441.4">)</text>
<text x="1216.9" y="4917.7">(</text><text x="1244" y="4917.7" font-weight="bold">b</text><text x="1293.1" y="4917.7">)</text>
</g></svg></body></html>
